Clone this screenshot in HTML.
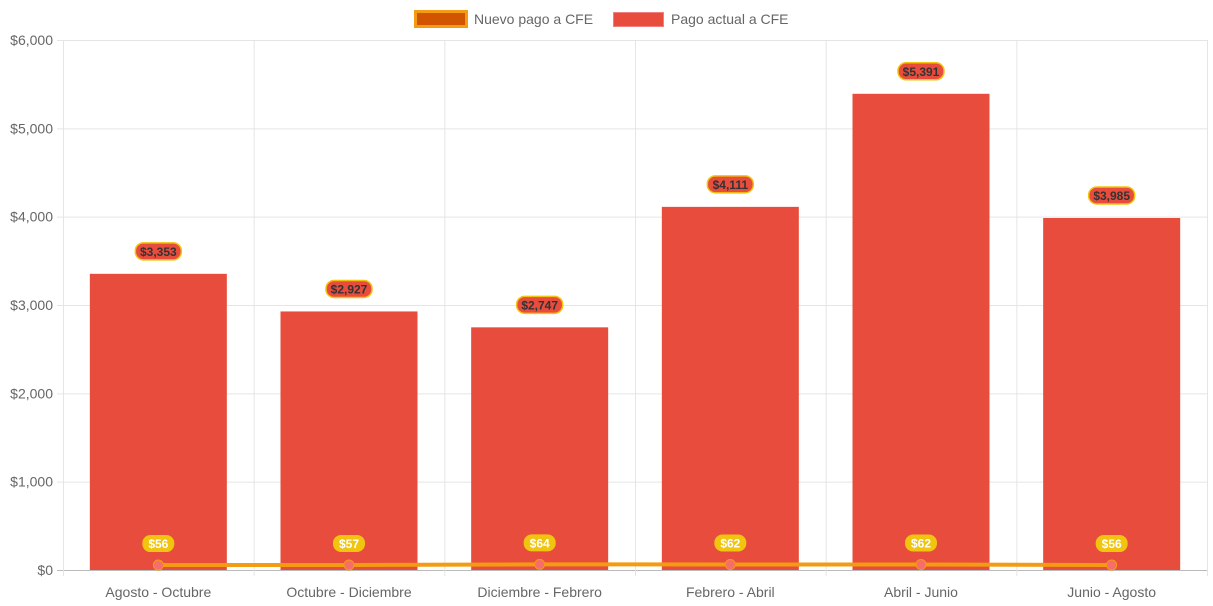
<!DOCTYPE html>
<html><head><meta charset="utf-8"><style>
html,body{margin:0;padding:0;background:#fff;}
svg{display:block;font-family:"Liberation Sans",Arial,sans-serif;}
</style></head><body>
<svg id="chart" width="1213" height="606" viewBox="0 0 1213 606" xmlns="http://www.w3.org/2000/svg">
<g>
  <g>
    <rect x="415.5" y="11.5" width="51" height="15" fill="#d35400" stroke="#f39c12" stroke-width="3"/>
    <text x="474" y="24" font-size="14" fill="#666">Nuevo pago a CFE</text>
  </g>
  <g>
    <rect x="613.5" y="12.5" width="50" height="14" fill="#e74c3c" stroke="#f08080" stroke-width="1"/>
    <text x="671" y="24" font-size="14" fill="#666">Pago actual a CFE</text>
  </g>
</g>
<g id="grid"></g>
<g id="bars"></g>
<g id="line"></g>
<g id="labels"></g>
</svg>
<script>
const categories=["Agosto - Octubre","Octubre - Diciembre","Diciembre - Febrero","Febrero - Abril","Abril - Junio","Junio - Agosto"];
const actualValues=[3353,2927,2747,4111,5391,3985];
const nuevoValues=[56,57,64,62,62,56];
const yTicks=[0,1000,2000,3000,4000,5000,6000];
const yTickLabels=["$0","$1,000","$2,000","$3,000","$4,000","$5,000","$6,000"];
const NS="http://www.w3.org/2000/svg";
const L=63,R=1207,T=40,B=570,YMAX=6000;
const band=(R-L)/categories.length;
const x=i=>L+band*(i+0.5);
const y=v=>B-(v/YMAX)*(B-T);
function mk(tag,attrs,parent){const e=document.createElementNS(NS,tag);for(const k in attrs)e.setAttribute(k,attrs[k]);parent.appendChild(e);return e;}
const fmt=v=>"$"+v.toLocaleString("en-US");
const grid=document.getElementById('grid');
yTicks.forEach((t,i)=>{
  const ln=mk('line',{x1:L-6,x2:R,y1:y(t)+0.5,y2:y(t)+0.5,stroke:t===0?'#bbb':'#e5e5e5','stroke-width':1},grid);
  
  
  const tx=mk('text',{x:L-10,y:y(t)+5,'text-anchor':'end','font-size':14,fill:'#666'},grid);
  tx.textContent=yTickLabels[i];
  
  
});
for(let i=0;i<=categories.length;i++){
  const gx=L+band*i+0.5;
  const ln=mk('line',{x1:gx,x2:gx,y1:T,y2:B+6,stroke:'#e5e5e5','stroke-width':1},grid);
  
  
}
categories.forEach((c,i)=>{
  const tx=mk('text',{x:x(i),y:597,'text-anchor':'middle','font-size':14,fill:'#666'},grid);
  tx.textContent=c;
  
  
});
const bars=document.getElementById('bars');
const labels=document.getElementById('labels');
const bw=137;
actualValues.forEach((v,i)=>{
  const r=mk('rect',{x:x(i)-bw/2,y:y(v),width:bw,height:B-y(v),fill:'#e74c3c'},bars);
  
  
  const g=mk('g',{},labels);
  
  
  const w=46;
  mk('rect',{x:x(i)-w/2,y:y(v)-31,width:w,height:17,rx:8,fill:'#e74c3c',stroke:'#f1c40f','stroke-width':1.5},g);
  const t=mk('text',{x:x(i),y:y(v)-18,'text-anchor':'middle','font-size':12,'font-weight':'bold',fill:'#333'},g);
  t.textContent=fmt(v);
});
const line=document.getElementById('line');
const pl=mk('polyline',{points:nuevoValues.map((v,i)=>x(i)+','+y(v)).join(' '),fill:'none',stroke:'#f39c12','stroke-width':4},line);


nuevoValues.forEach((v,i)=>{
  const c=mk('circle',{cx:x(i),cy:y(v),r:5,fill:'#f76c6c',stroke:'#f39c12','stroke-width':1},line);
  
  
  const g=mk('g',{},labels);
  
  
  const w=32;
  mk('rect',{x:x(i)-w/2,y:y(v)-30,width:w,height:17,rx:8,fill:'#f1c40f'},g);
  const t=mk('text',{x:x(i),y:y(v)-17,'text-anchor':'middle','font-size':12,'font-weight':'bold',fill:'#fff'},g);
  t.textContent=fmt(v);
});
</script>
</body></html>
